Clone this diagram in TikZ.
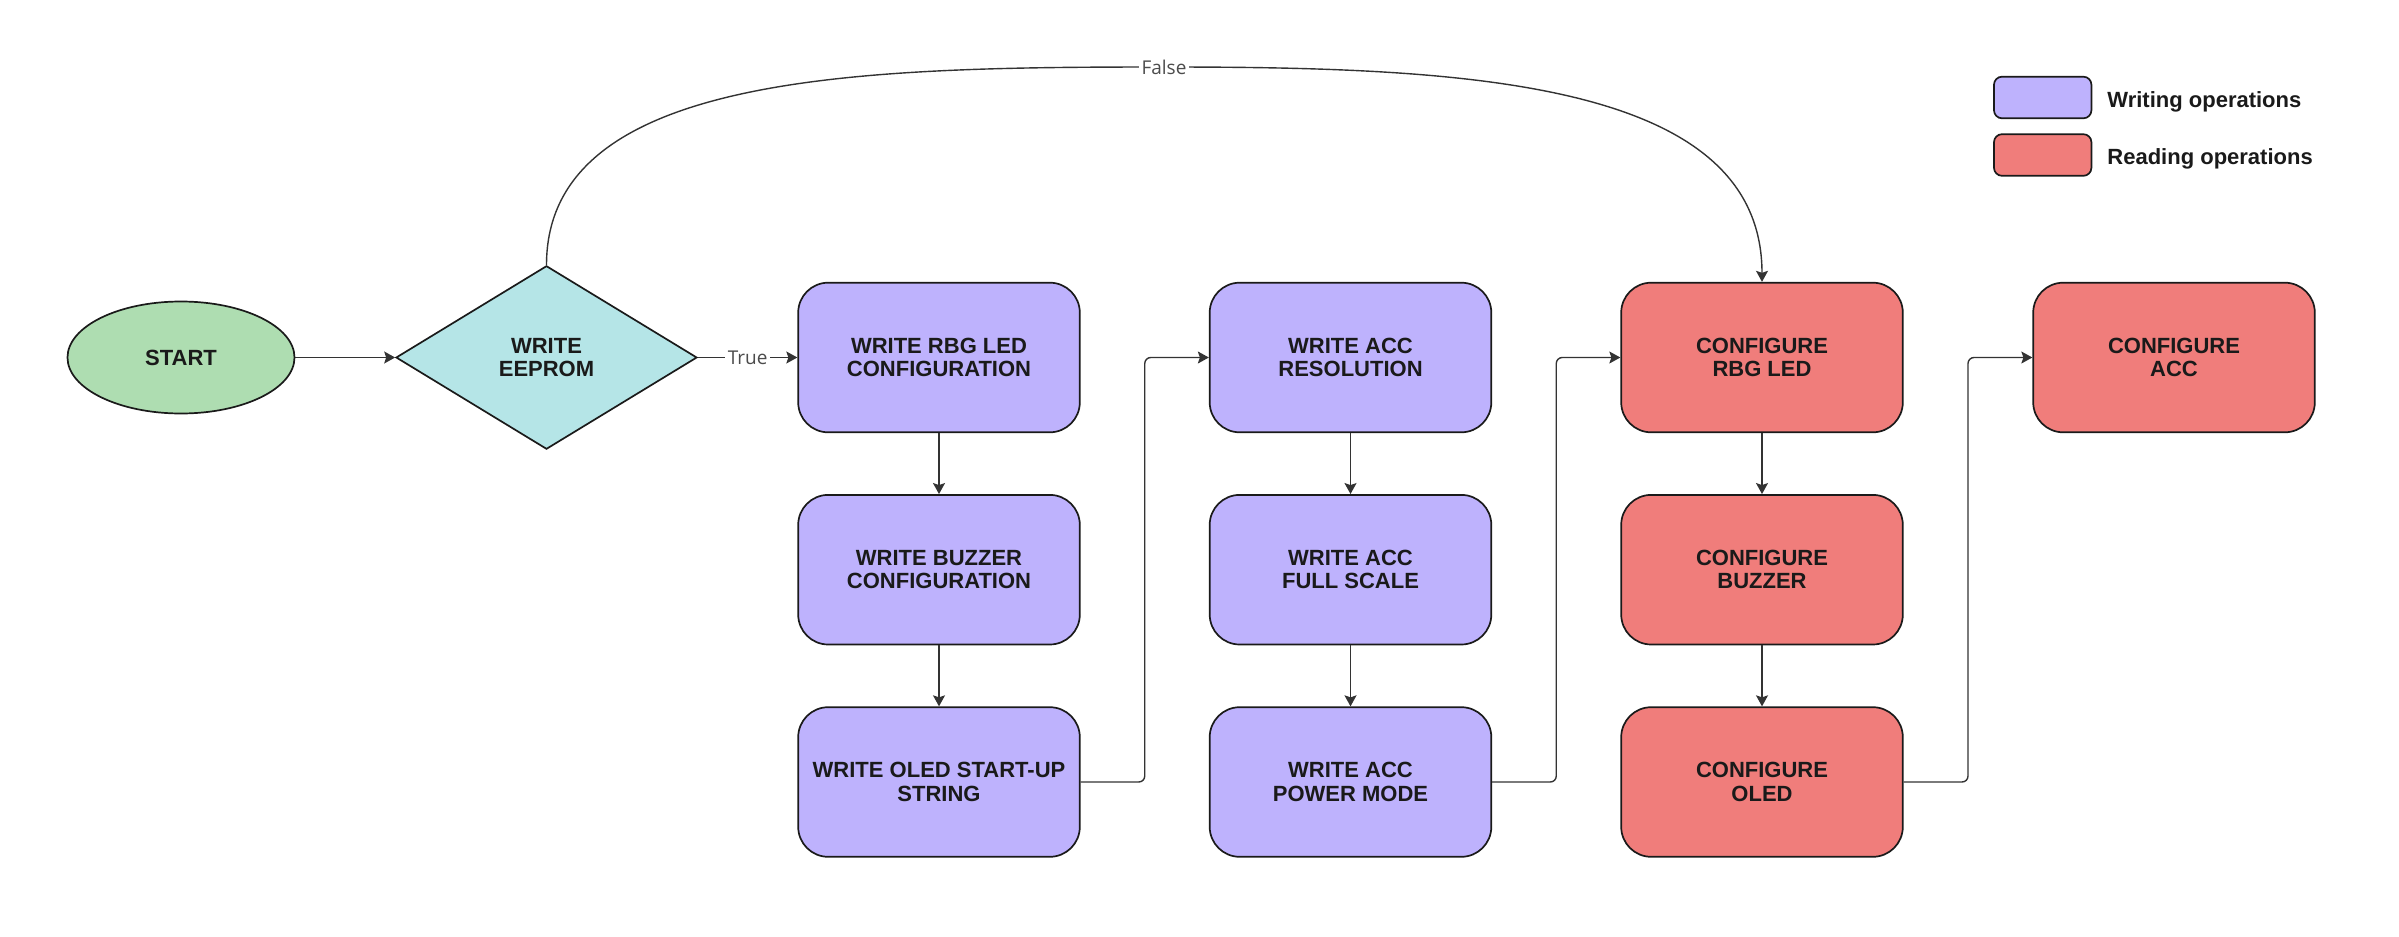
\documentclass[tikz,border=0pt]{standalone}
\usepackage{fontspec}
\setmainfont{Liberation Sans}
\newfontfamily\lblfont{Open Sans}
\usetikzlibrary{shapes.geometric,arrows.meta,calc}
\definecolor{cgreen}{HTML}{AEDDB1}
\definecolor{ccyan}{HTML}{B5E5E7}
\definecolor{cpurple}{HTML}{BEB2FD}
\definecolor{cred}{HTML}{F07D7B}
\definecolor{cline}{HTML}{333333}
\definecolor{ctext}{HTML}{1A1A1A}
\begin{document}
\begin{tikzpicture}[x=0.5pt,y=-0.5pt,
  base/.style={draw=ctext, line width=0.85pt, align=center, text=ctext,
    font=\fontsize{11}{11.7}\selectfont\bfseries, inner sep=0pt},
  proc/.style={base, rounded corners=15pt, minimum width=140.8pt, minimum height=74.8pt},
  wr/.style={proc, fill=cpurple},
  rd/.style={proc, fill=cred},
  startnode/.style={base, ellipse, fill=cgreen, minimum width=113.5pt, minimum height=56pt},
  decision/.style={base, diamond, fill=ccyan, minimum width=150.5pt, minimum height=91.7pt},
  arr/.style={draw=cline, line width=0.7pt, -{Stealth[length=5.5pt,width=6pt,inset=1pt]}},
  lbl/.style={fill=white, text=black!70, font=\lblfont\fontsize{9.5}{10}\selectfont, inner sep=1.5pt},
  legbox/.style={draw=ctext, line width=0.85pt, rounded corners=4pt, minimum width=48.7pt, minimum height=20.8pt, inner sep=0pt},
  legtxt/.style={anchor=base west, text=ctext, font=\fontsize{11}{12}\selectfont\bfseries, inner sep=0pt}
]
\useasboundingbox (0,0) rectangle (2399,937);

\node[startnode] (start) at (181,357.5) {START};
\node[decision] (dec) at (546.5,357.5) {WRITE\\EEPROM};

\node[wr] (w1) at (939,357.5) {WRITE RBG LED\\CONFIGURATION};
\node[wr] (w2) at (939,569.7) {WRITE BUZZER\\CONFIGURATION};
\node[wr] (w3) at (939,782) {WRITE OLED START-UP\\STRING};

\node[wr] (a1) at (1350.5,357.5) {WRITE ACC\\RESOLUTION};
\node[wr] (a2) at (1350.5,569.7) {WRITE ACC\\FULL SCALE};
\node[wr] (a3) at (1350.5,782) {WRITE ACC\\POWER MODE};

\node[rd] (r1) at (1762,357.5) {CONFIGURE\\RBG LED};
\node[rd] (r2) at (1762,569.7) {CONFIGURE\\BUZZER};
\node[rd] (r3) at (1762,782) {CONFIGURE\\OLED};

\node[rd] (c1) at (2174,357.5) {CONFIGURE\\ACC};

% legend
\node[legbox, fill=cpurple] (lw) at (2042.7,97.5) {};
\node[legtxt] (lwt) at (2107,107) {Writing operations};
\node[legbox, fill=cred] (lr) at (2042.7,155) {};
\node[legtxt] (lrt) at (2107,164.5) {Reading operations};

% connectors
\draw[arr] (start.east) -- (dec.west);
\draw[arr] (dec.east) -- node[lbl] (tl) {True} (w1.west);

\draw[arr] (w1) -- (w2);
\draw[arr] (w2) -- (w3);
\draw[arr] (a1) -- (a2);
\draw[arr] (a2) -- (a3);
\draw[arr] (r1) -- (r2);
\draw[arr] (r2) -- (r3);

\draw[arr, rounded corners=3pt] (w3.east) -| ($(w3.east)!0.5!(a1.west)$) |- (a1.west);
\draw[arr, rounded corners=3pt] (a3.east) -| ($(a3.east)!0.5!(r1.west)$) |- (r1.west);
\draw[arr, rounded corners=3pt] (r3.east) -| ($(r3.east)!0.5!(c1.west)$) |- (c1.west);

\coordinate (fc) at (1164,67);
\draw[arr] (dec.north) .. controls (546.5,72) and (864,67) .. (fc)
  .. controls (1464,67) and (1762,80) .. (r1.north);
\node[lbl] (fl) at (fc) {False};
\end{tikzpicture}
\end{document}
